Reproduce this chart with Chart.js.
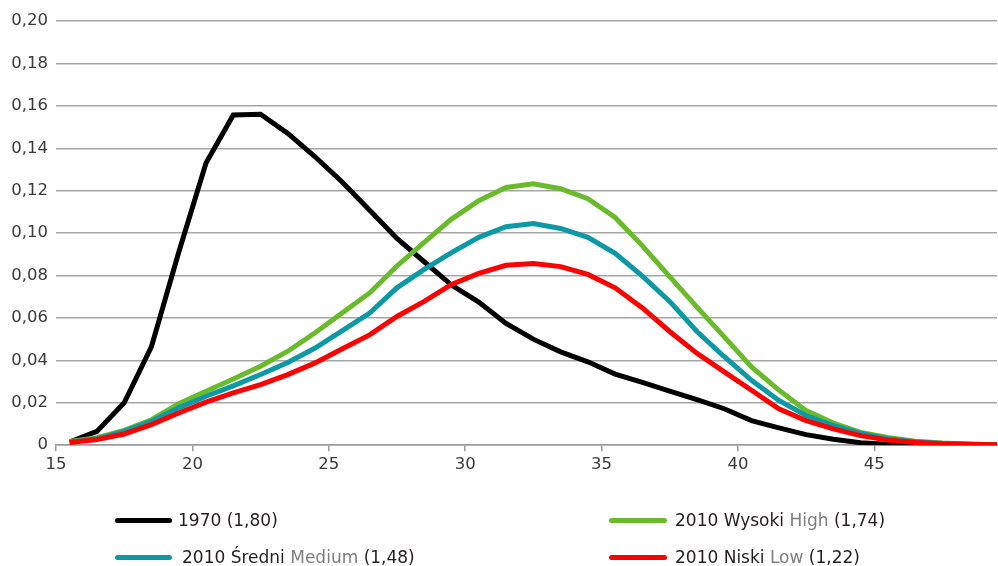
<!DOCTYPE html>
<html>
<head>
<meta charset="utf-8">
<script src="https://cdn.jsdelivr.net/npm/chart.js@4"></script>
<style>
  html, body { margin: 0; padding: 0; background: #fff; }
  #wrap { position: relative; width: 998px; height: 566px; overflow: hidden; }
  #c { position: absolute; left: 0; top: 0; }
  .lg { position: absolute; font-family: "DejaVu Sans", sans-serif; font-size: 17px; color: #231f20; white-space: nowrap; line-height: 20px; }
  .lg .en { color: #7f7f7f; }
  .sw { position: absolute; height: 5px; border-radius: 3px; }
</style>
</head>
<body>
<div id="wrap">
  <canvas id="c" width="998" height="566"></canvas>
  <div id="legend"></div>
</div>
<script>
// Age (x positions of points)
const ages = [15.5,16.5,17.5,18.5,19.5,20.5,21.5,22.5,23.5,24.5,25.5,26.5,27.5,28.5,29.5,30.5,31.5,32.5,33.5,34.5,35.5,36.5,37.5,38.5,39.5,40.5,41.5,42.5,43.5,44.5,45.5,46.5,47.5,48.5,49.5];

const y1970 = [0.0015,0.0065,0.0200,0.0465,0.0910,0.1330,0.1557,0.1560,0.1470,0.1360,0.1240,0.1108,0.0975,0.0865,0.0755,0.0675,0.0574,0.0500,0.0440,0.0393,0.0335,0.0296,0.0255,0.0215,0.0172,0.0116,0.0082,0.0050,0.0028,0.0012,0.0005,0.0002,0.0001,0.0001,0.0000];

const yHigh = [0.0018,0.0035,0.0070,0.0120,0.0196,0.0254,0.0312,0.0372,0.0443,0.0530,0.0625,0.0718,0.0845,0.0956,0.1066,0.1153,0.1215,0.1232,0.1209,0.1162,0.1074,0.0940,0.0795,0.0651,0.0511,0.0369,0.0260,0.0163,0.0104,0.0060,0.0036,0.0019,0.0010,0.0005,0.0003];

const yMedium = [0.0015,0.0030,0.0065,0.0113,0.0176,0.0231,0.0280,0.0333,0.0390,0.0458,0.0540,0.0623,0.0742,0.0829,0.0908,0.0980,0.1030,0.1045,0.1022,0.0980,0.0905,0.0797,0.0678,0.0536,0.0417,0.0306,0.0211,0.0140,0.0093,0.0056,0.0030,0.0016,0.0008,0.0004,0.0002];

const yLow = [0.0013,0.0027,0.0053,0.0097,0.0152,0.0203,0.0247,0.0286,0.0333,0.0388,0.0455,0.0520,0.0607,0.0678,0.0758,0.0810,0.0848,0.0857,0.0842,0.0805,0.0742,0.0647,0.0536,0.0433,0.0346,0.0259,0.0172,0.0116,0.0077,0.0045,0.0025,0.0013,0.0007,0.0004,0.0002];

const xTicks = [15,20,25,30,35,40,45];
const yTicks = [0,0.02,0.04,0.06,0.08,0.10,0.12,0.14,0.16,0.18,0.20];

// legend labels: main text, english word (gray), value
const legendItems = [
  { pl: "1970", en: "", val: "(1,80)", color: "#000000" },
  { pl: "2010 Wysoki", en: "High", val: "(1,74)", color: "#69bb2b" },
  { pl: "2010 Średni", en: "Medium", val: "(1,48)", color: "#0a99a5" },
  { pl: "2010 Niski", en: "Low", val: "(1,22)", color: "#ff0000" }
];

const pts = arr => ages.map((a, i) => ({ x: a, y: arr[i] }));

const seriesData = [y1970, yHigh, yMedium, yLow];
const orders = [3, 2, 1, 0];

const datasets = legendItems.map((it, i) => ({
  label: (it.pl + " " + it.en + " " + it.val).replace(/\s+/g, " "),
  data: pts(seriesData[i]),
  borderColor: it.color,
  backgroundColor: it.color,
  borderWidth: 5,
  pointRadius: 0,
  tension: 0,
  fill: false,
  order: orders[i],
  borderJoinStyle: 'miter',
  borderCapStyle: 'butt'
}));

const axisFont = { family: "DejaVu Sans", size: 16.5 };

new Chart(document.getElementById('c'), {
  type: 'line',
  data: { datasets },
  options: {
    responsive: false,
    animation: false,
    devicePixelRatio: 1,
    layout: { padding: { left: 0, right: 1, top: 21, bottom: 87 } },
    plugins: { legend: { display: false }, tooltip: { enabled: false } },
    scales: {
      x: {
        type: 'linear',
        min: 15,
        max: 49.5,
        afterBuildTicks: s => { s.ticks = xTicks.map(v => ({ value: v })); },
        ticks: { font: axisFont, color: '#3a3a3a', padding: 4, maxRotation: 0, autoSkip: false },
        grid: { drawOnChartArea: false, drawTicks: true, tickLength: 6, color: '#9a9a9a', lineWidth: 1.5 },
        border: { display: true, color: '#9a9a9a', width: 1.5 }
      },
      y: {
        min: 0,
        max: 0.2,
        afterBuildTicks: s => { s.ticks = yTicks.map(v => ({ value: v })); },
        afterFit: s => { s.width = 56; },
        ticks: {
          font: axisFont, color: '#3a3a3a', padding: 8,
          callback: v => (Math.abs(v) < 1e-9 ? '0' : v.toFixed(2).replace('.', ','))
        },
        grid: { drawTicks: false, color: '#a6a6a6', lineWidth: 1.5 },
        border: { display: false }
      }
    }
  }
});

// HTML legend (mixed-colour text)
const pos = [
  { sx: 115, sw: 57, sy: 518, tx: 178, ty: 510 },
  { sx: 609, sw: 58, sy: 518, tx: 675, ty: 510 },
  { sx: 115, sw: 57, sy: 555, tx: 182, ty: 547 },
  { sx: 609, sw: 58, sy: 555, tx: 675, ty: 547 }
];
const lg = document.getElementById('legend');
legendItems.forEach((it, i) => {
  const p = pos[i];
  const sw = document.createElement('div');
  sw.className = 'sw';
  sw.style.left = p.sx + 'px'; sw.style.top = p.sy + 'px';
  sw.style.width = p.sw + 'px'; sw.style.background = it.color;
  lg.appendChild(sw);
  const t = document.createElement('div');
  t.className = 'lg';
  t.style.left = p.tx + 'px'; t.style.top = p.ty + 'px';
  t.appendChild(document.createTextNode(it.pl + ' '));
  if (it.en) {
    const s = document.createElement('span');
    s.className = 'en'; s.textContent = it.en;
    t.appendChild(s);
    t.appendChild(document.createTextNode(' '));
  }
  t.appendChild(document.createTextNode(it.val));
  lg.appendChild(t);
});
</script>
</body>
</html>
